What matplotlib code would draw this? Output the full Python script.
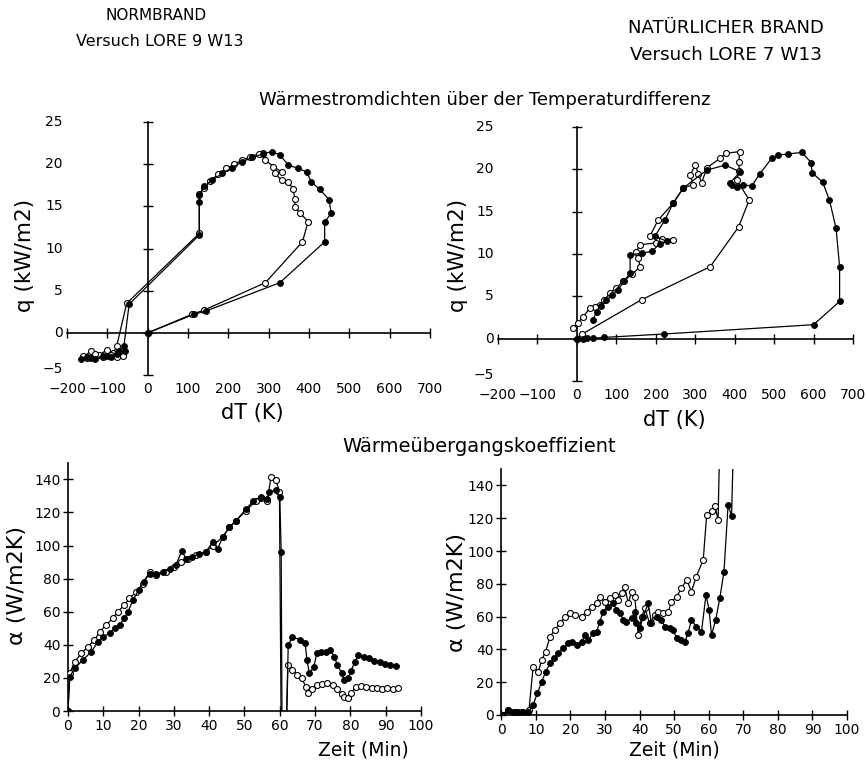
import matplotlib
matplotlib.use("Agg")
import matplotlib.pyplot as plt
import numpy as np

plt.rcParams['font.family'] = ['DejaVu Sans']

# ---- Wärmestromdichte q über dT, Normbrand (LORE 9 W13) ----
nb_q_open_dT = [0, 110, 140, 292, 384, 398, 378, 365, 365, 361, 349, 332, 316, 332, 312, 292, 287,
                275, 255, 235, 215, 195, 175, 155, 140, 128, 128, -52, -77, -85, -100, -120, -140,
                -160, -150, -130, -110, -90, -75, -60]
nb_q_open_q = [0, 2.2, 2.7, 5.95, 10.8, 13.2, 14.2, 14.9, 15.9, 17.0, 17.9, 18.1, 18.9, 19.1, 19.7,
               20.5, 21.3, 21.2, 20.9, 20.5, 20.0, 19.5, 18.8, 18.0, 17.2, 16.5, 11.8, 3.5, -1.6,
               -2.4, -2.0, -2.6, -2.2, -2.8, -3.0, -2.5, -2.9, -2.6, -2.9, -2.7]
nb_q_fill_dT = [0, 115, 145, 328, 439, 439, 455, 450, 427, 406, 394, 373, 349, 328, 308, 285, 260,
                235, 210, 185, 160, 140, 128, 128, 128, -46, -59, -70, -90, -110, -130, -150, -165,
                -140, -100, -75, -55]
nb_q_fill_q = [0, 2.2, 2.6, 5.95, 10.8, 13.1, 14.2, 15.8, 17.0, 17.9, 19.1, 19.5, 19.9, 21.1, 21.5,
               21.2, 20.8, 20.3, 19.6, 18.9, 18.1, 17.4, 16.3, 15.5, 11.6, 3.4, -1.6, -2.2, -2.9,
               -2.7, -3.1, -2.9, -3.1, -3.0, -2.8, -2.5, -2.2]

# ---- Wärmestromdichte q über dT, natürlicher Brand (LORE 7 W13) ----
nat_q_open_dT = [0, 12, 164, 338, 410, 437, 405, 412, 410, 414, 378, 363, 330, 316, 308, 300, 287,
                 295, 270, 244, 206, 185, 215, 244, 200, 160, 150, 156, 160, 140, 118, 100, 84, 70,
                 58, 45, 33, 16, 3, -9]
nat_q_open_q = [0, 0.5, 4.6, 8.5, 13.2, 16.4, 18.75, 19.8, 20.9, 22.1, 21.9, 21.3, 20.2, 18.4, 19.5,
                20.5, 19.3, 18.2, 17.8, 16.0, 14.0, 12.1, 11.8, 11.7, 11.3, 11.1, 10.2, 9.5, 8.5,
                7.6, 6.8, 6.0, 5.4, 4.6, 4.0, 3.8, 3.6, 2.6, 1.9, 1.3]
nat_q_fill_dT = [0, 15, 25, 40, 70, 220, 600, 666, 666, 657, 640, 623, 596, 594, 570, 534, 511, 494,
                 464, 443, 422, 405, 393, 388, 414, 376, 329, 270, 244, 223, 198, 228, 210, 190, 165,
                 135, 135, 120, 105, 90, 75, 62, 50, 41]
nat_q_fill_q = [0, 0.0, 0.1, 0.05, 0.15, 0.55, 1.65, 4.4, 8.5, 13.05, 16.4, 18.5, 19.6, 20.8, 22.0,
                21.8, 21.7, 21.3, 19.5, 18.0, 18.2, 17.9, 18.2, 18.4, 19.7, 20.5, 19.9, 17.8, 16.0,
                14.0, 12.1, 11.5, 11.2, 10.3, 10.1, 9.9, 7.75, 6.8, 5.8, 5.1, 4.6, 3.9, 3.2, 2.2]

# ---- Wärmeübergangskoeffizient über Zeit, Normbrand ----
nb_a_open_t = [0, 0.5, 1.9, 3.8, 5.6, 7.5, 9.0, 10.8, 12.7, 14.1, 16.0, 17.4, 19.3, 21.2, 23.1, 25,
               27.8, 30.1, 32, 34, 36.3, 39.1, 41, 43.8, 45.7, 47.6, 50.4, 53.2, 54.6, 56.5, 57.5,
               58.9, 59.9, 60.5, 61.6, 62.3, 63.6, 65.0, 66.2, 67.4, 68.0, 69.0, 70.5, 72.0, 73.5,
               75.0, 76.3, 77.5, 78.3, 79.2, 80.3, 81.5, 83.0, 84.5, 86.0, 87.5, 89.0, 90.5, 92.0,
               93.5]
nb_a_open_a = [0, 22.8, 29.8, 34.8, 38.9, 42.9, 47.9, 52, 56, 60, 64, 68, 72, 77, 84, 82, 84, 87,
               90, 92, 94, 96, 100, 105, 111, 115, 121, 127, 129, 127, 141.5, 139.6, 132.6, -40,
               -40, 27.8, 24.8, 22.0, 19.7, 14.7, 10.7, 13.0, 15.7, 16.5, 16.7, 16.0, 13.5, 10.0,
               8.6, 7.7, 10.7, 14.7, 15.0, 14.7, 14.0, 13.7, 13.2, 13.7, 13.5, 13.7]
nb_a_fill_t = [0, 0.5, 1.9, 4.2, 6.6, 8.5, 9.9, 11.8, 13.2, 14.6, 16.0, 17.0, 18.4, 20, 21.5, 23.1,
               25, 27, 29, 30.5, 32.3, 33.4, 35, 37, 39, 41, 42.4, 43.8, 45.7, 47.6, 50.4, 52.5,
               54.6, 56.5, 57, 58.9, 60.0, 60.4, 60.7, 61.5, 62.4, 63.6, 65.8, 67.2, 67.7, 68.4,
               69.6, 70.5, 71.8, 73.0, 74.3, 75.5, 76.3, 77.6, 78.1, 79.3, 80.2, 81.3, 82.3, 83.8,
               85.3, 86.8, 88.3, 89.8, 91.3, 92.8]
nb_a_fill_a = [0, 20.7, 25.8, 30.8, 35.8, 41.9, 44.9, 46.9, 49.9, 52, 56, 60, 67, 73, 78, 83, 83,
               84, 86, 88, 97, 92, 93, 95, 96, 102, 98, 105, 111, 115, 122, 127, 129.5, 128, 132.5,
               133.5, 129.5, 96.3, -40, -40, 39.9, 44.9, 42.9, 40.9, 30.8, 22.8, 26.4, 34.9, 35.5,
               35.8, 36.9, 32.8, 27.8, 22.8, 18.7, 19.7, 24.4, 29.8, 33.8, 32.5, 31.8, 30.5, 29.8,
               28.5, 27.8, 27.2]

# ---- Wärmeübergangskoeffizient über Zeit, natürlicher Brand ----
nat_a_open_t = [0, 2, 4, 6, 8, 9.2, 10.7, 11.7, 12.8, 14.1, 15.5, 17, 18.4, 19.8, 21.3, 23.2, 24.7,
                26.1, 27.6, 28.5, 29.9, 31.4, 32.8, 33.8, 34.8, 35.7, 36.7, 37.7, 38.6, 39.6, 40.6,
                41.5, 42.9, 44.4, 45.4, 46.8, 48.3, 49.2, 50.7, 52.1, 53.6, 55, 56.4, 58.4, 59.4,
                60.9, 61.8, 62.7, 63.3]
nat_a_open_a = [0, 3, 2, 2, 3, 29.5, 26.4, 33.6, 38.7, 47.8, 51.9, 56, 60, 62.1, 61, 60, 63.1, 66.1,
                68.2, 72.2, 69.2, 71.2, 73.2, 70.2, 74.3, 78.3, 68.2, 75.3, 72.2, 48.8, 60, 65.1,
                56, 61, 63.1, 62.1, 63.1, 69.2, 72.2, 77.3, 82.4, 75.3, 84.4, 94.6, 122, 124.1,
                127.2, 119, 180]
nat_a_fill_t = [0.6, 2, 3.5, 4.9, 6.4, 7.8, 9.2, 10.4, 11.7, 12.8, 14.1, 15.2, 16.5, 17.9, 19.4,
                20.3, 22, 23.2, 24.2, 25.1, 26.6, 27.6, 28.5, 29.5, 30.9, 32.4, 33.3, 34.3, 35.3,
                36.2, 37.7, 38.6, 39.1, 40.1, 41, 42.5, 43.4, 44.9, 46.3, 47.3, 48.7, 49.7, 50.7,
                52.1, 53.1, 54, 55, 56.4, 57.9, 59.2, 60.1, 60.8, 62, 63.2, 64.4, 65.6, 66.6, 67.3]
nat_a_fill_a = [0, 3, 2, 2, 2, 2, 6.1, 13.2, 20.3, 26.4, 31.5, 34.6, 37.6, 40.7, 43.7, 44.8, 42.7,
                44.8, 48.8, 45.8, 49.8, 50.9, 57, 63.1, 66.1, 68.2, 64.1, 62.1, 58, 57, 59, 63.1,
                56, 52.9, 60, 68.2, 56, 60, 58, 53.9, 52.9, 51.9, 46.8, 45.8, 44.8, 49.8, 58, 53.9,
                50.9, 73.2, 64.1, 48.8, 58, 71.2, 87.5, 128.2, 121.1, 180]

dT_ticks = [-200, -100, 0, 100, 200, 300, 400, 500, 600, 700]
q_ticks = [-5, 0, 5, 10, 15, 20, 25]
t_ticks = list(range(0, 101, 10))
a_ticks = list(range(0, 141, 20))

LW = 0.9
MS = 4.3
TICK_FS = 10


def draw_series(ax, x, y, filled):
    if filled:
        ax.plot(x, y, '-o', color='black', lw=LW, ms=MS, mfc='black', mec='black', mew=0.6,
                zorder=4)
    else:
        ax.plot(x, y, '-o', color='black', lw=LW, ms=MS, mfc='white', mec='black', mew=0.8,
                zorder=3)


def cross_axes(ax):
    """Axis lines through the origin, tick labels along the frame edges."""
    ax.set_xlim(-200, 700)
    ax.set_ylim(-5, 25)
    for s in ('top', 'right'):
        ax.spines[s].set_visible(False)
    ax.spines['left'].set_position(('data', 0))
    ax.spines['bottom'].set_position(('data', 0))
    for s in ('left', 'bottom'):
        ax.spines[s].set_linewidth(1.2)
    ax.set_xticks(dT_ticks)
    ax.set_yticks(q_ticks)
    ax.tick_params(direction='inout', length=7, width=1.0,
                   labelleft=False, labelbottom=False)
    for v in q_ticks:
        dy = 4 if v == q_ticks[0] else 0
        ax.annotate(f"{v}".replace('-', '\u2212'), xy=(0, v), xycoords=ax.get_yaxis_transform(),
                    xytext=(-3, dy), textcoords='offset points', ha='right', va='center',
                    fontsize=TICK_FS)
    for v in dT_ticks:
        ax.annotate(f"{v}".replace('-', '\u2212'), xy=(v, 0), xycoords=ax.get_xaxis_transform(),
                    xytext=(0, -5), textcoords='offset points', ha='center', va='top',
                    fontsize=TICK_FS)


def time_axes(ax):
    ax.set_xlim(0, 100)
    ax.set_ylim(0, 150)
    for s in ('top', 'right'):
        ax.spines[s].set_visible(False)
    for s in ('left', 'bottom'):
        ax.spines[s].set_linewidth(1.2)
    ax.set_xticks(t_ticks)
    ax.set_yticks(a_ticks)
    ax.tick_params(direction='inout', length=7, width=1.0, labelsize=TICK_FS, pad=2)


fig = plt.figure(figsize=(8.66, 7.66), dpi=100)
fig.patch.set_facecolor('white')

ax1 = fig.add_axes([0.0774, 0.5104, 0.419, 0.3303])
ax2 = fig.add_axes([0.575, 0.5026, 0.410, 0.3316])
ax3 = fig.add_axes([0.0785, 0.0718, 0.4076, 0.324])
ax4 = fig.add_axes([0.5789, 0.0666, 0.3992, 0.3211])

cross_axes(ax1)
cross_axes(ax2)
time_axes(ax3)
time_axes(ax4)

draw_series(ax1, nb_q_open_dT, nb_q_open_q, False)
draw_series(ax1, nb_q_fill_dT, nb_q_fill_q, True)
draw_series(ax2, nat_q_open_dT, nat_q_open_q, False)
draw_series(ax2, nat_q_fill_dT, nat_q_fill_q, True)
draw_series(ax3, nb_a_open_t, nb_a_open_a, False)
draw_series(ax3, nb_a_fill_t, nb_a_fill_a, True)
draw_series(ax4, nat_a_open_t, nat_a_open_a, False)
draw_series(ax4, nat_a_fill_t, nat_a_fill_a, True)

# headings
fig.text(156 / 866, 1 - 15 / 766, "NORMBRAND", ha='center', va='center', fontsize=11)
fig.text(160 / 866, 1 - 42 / 766, "Versuch LORE 9 W13", ha='center', va='center', fontsize=11.5)
fig.text(726 / 866, 1 - 28 / 766, "NATÜRLICHER BRAND", ha='center', va='center', fontsize=13)
fig.text(726 / 866, 1 - 55 / 766, "Versuch LORE 7 W13", ha='center', va='center', fontsize=13.2)
fig.text(485 / 866, 1 - 100 / 766, "Wärmestromdichten über der Temperaturdifferenz",
         ha='center', va='center', fontsize=12.9)
fig.text(479 / 866, 1 - 447 / 766, "Wärmeübergangskoeffizient",
         ha='center', va='center', fontsize=14)

# axis titles
fig.text(0.029, 0.667, "q (kW/m2)", rotation=90, ha='center', va='center', fontsize=15.5)
fig.text(0.291, 0.461, "dT (K)", ha='center', va='center', fontsize=15)
fig.text(0.529, 0.667, "q (kW/m2)", rotation=90, ha='center', va='center', fontsize=15.5)
fig.text(0.779, 0.452, "dT (K)", ha='center', va='center', fontsize=15)
fig.text(0.0196, 0.236, "α (W/m2K)", rotation=90, ha='center', va='center', fontsize=16)
fig.text(0.420, 0.021, "Zeit (Min)", ha='center', va='center', fontsize=13.5)
fig.text(0.528, 0.226, "α (W/m2K)", rotation=90, ha='center', va='center', fontsize=16)
fig.text(0.779, 0.021, "Zeit (Min)", ha='center', va='center', fontsize=13.5)

fig.savefig("out.png", dpi=100, facecolor='white')
